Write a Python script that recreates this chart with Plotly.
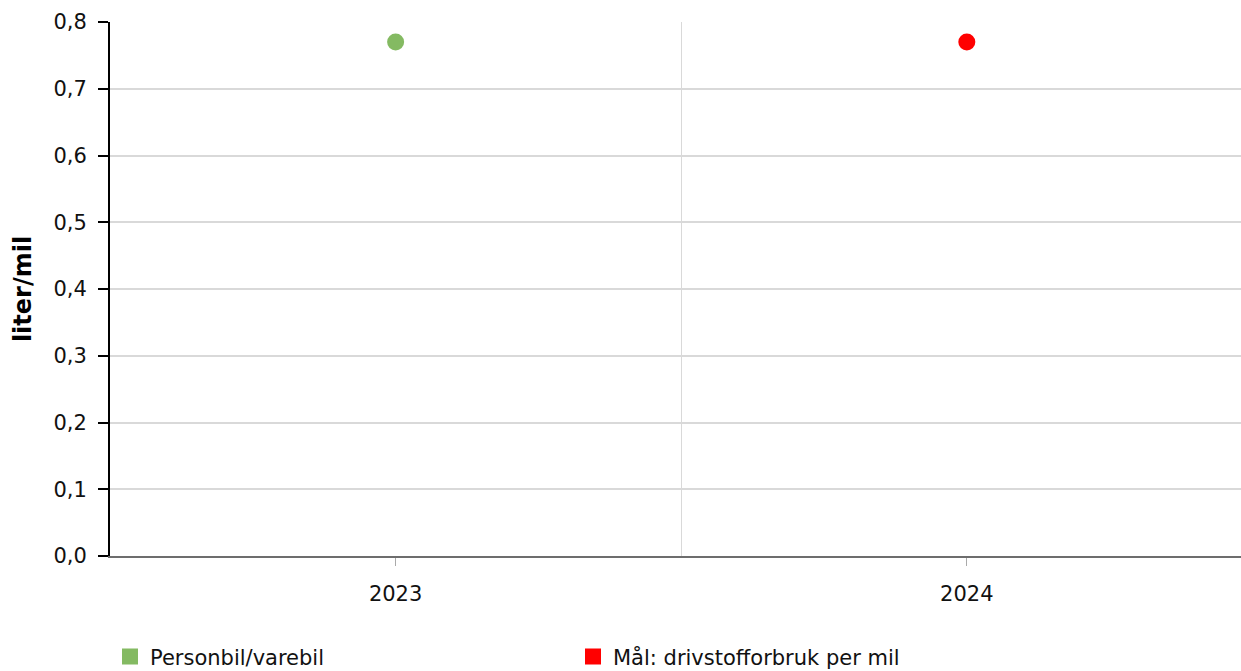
import plotly.graph_objects as go

categories = ["2023", "2024"]
series_names = ["Personbil/varebil", "Mål: drivstofforbruk per mil"]
series_values = [[0.77, None], [None, 0.77]]
series_colors = ["#84BA62", "#FF0000"]
y_ticks = [0.0, 0.1, 0.2, 0.3, 0.4, 0.5, 0.6, 0.7, 0.8]
y_ticktext = [f"{v:.1f}".replace(".", ",") for v in y_ticks]

FONT = "Verdana, DejaVu Sans, sans-serif"
FS = 21
xpos = list(range(len(categories)))

fig = go.Figure()
for name, vals, col in zip(series_names, series_values, series_colors):
    fig.add_trace(go.Scatter(
        x=xpos, y=vals, mode="markers", name=name, showlegend=False,
        marker=dict(color=col, size=17, symbol="circle"),
        hovertemplate="%{y}<extra>" + name + "</extra>",
    ))
    fig.add_trace(go.Scatter(
        x=[None], y=[None], mode="markers", name=name, showlegend=True,
        marker=dict(color=col, size=30, symbol="square"),
    ))

fig.update_layout(
    width=1241, height=671,
    margin=dict(l=110, r=0, t=22, b=115, autoexpand=False),
    paper_bgcolor="white", plot_bgcolor="white",
    font=dict(family=FONT, size=FS, color="#111111"),
    showlegend=True,
    legend=dict(
        orientation="h", x=0.0, xanchor="left", y=-0.1506, yanchor="top",
        font=dict(family=FONT, size=FS, color="#111111"),
        entrywidth=418, entrywidthmode="pixels",
        itemsizing="trace", tracegroupgap=0,
    ),
    xaxis=dict(
        range=[-0.5, len(categories) - 0.52],
        tickmode="array", tickvals=xpos, ticktext=categories,
        showgrid=False, zeroline=False,
        showline=True, linecolor="#6d6d6d", linewidth=2,
        ticks="outside", ticklen=8, tickwidth=1, tickcolor="#aaaaaa",
        ticklabelstandoff=10,
        tickfont=dict(family=FONT, size=FS, color="#111111"),
        minor=dict(tickmode="array", tickvals=[0.5], showgrid=True,
                   gridcolor="#d9d9d9", gridwidth=1, ticks=""),
        fixedrange=True,
    ),
    yaxis=dict(
        range=[0, 0.8],
        tickmode="array", tickvals=y_ticks, ticktext=y_ticktext,
        showgrid=True, gridcolor="#d9d9d9", gridwidth=1.5,
        zeroline=False,
        showline=True, linecolor="#000000", linewidth=2,
        ticks="outside", ticklen=10, tickwidth=2, tickcolor="#000000",
        ticklabelstandoff=7,
        tickfont=dict(family=FONT, size=FS, color="#111111"),
        title=dict(text="<b>liter/mil</b>", font=dict(family=FONT, size=24, color="#000000"), standoff=15),
        fixedrange=True,
    ),
)

fig.write_html("out.html", config={"displayModeBar": False},
               post_script="document.body.style.margin='0';")
